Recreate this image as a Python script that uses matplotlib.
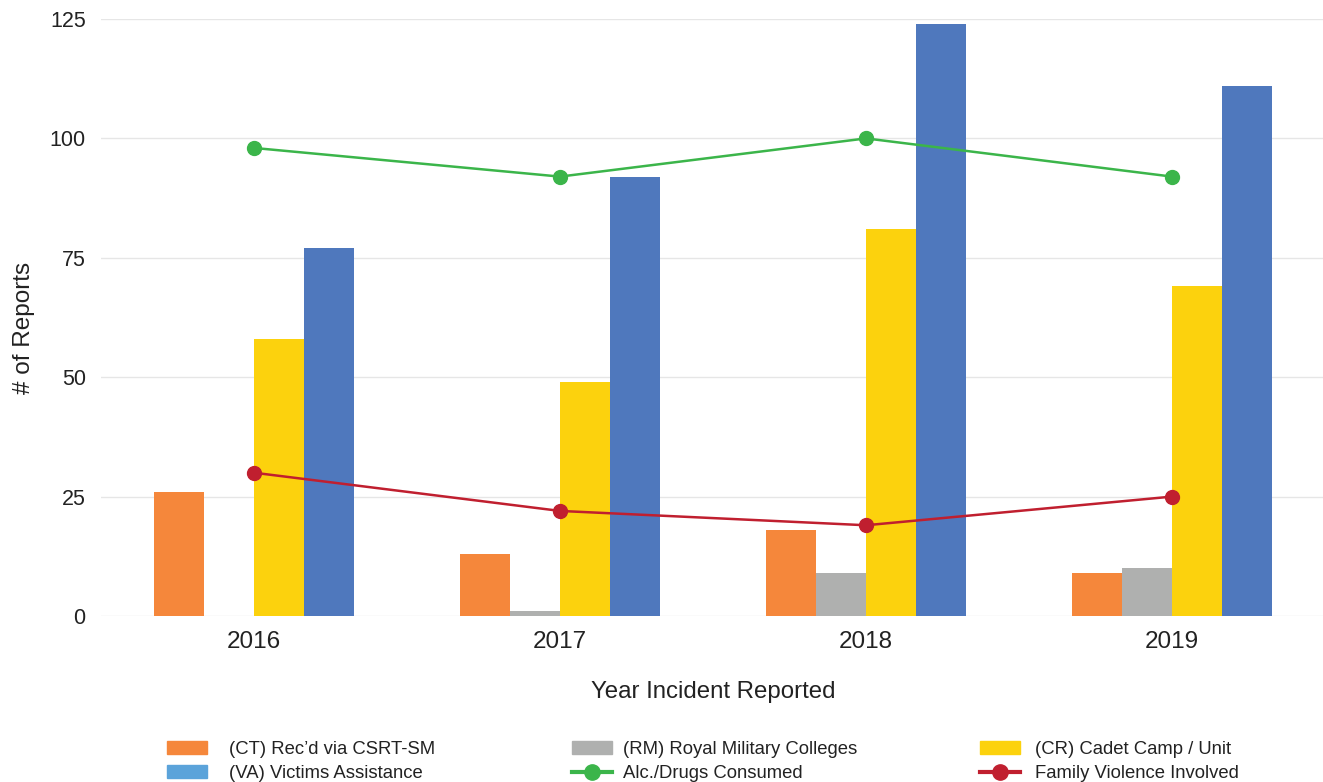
import matplotlib
matplotlib.use("Agg")
import matplotlib.pyplot as plt
import numpy as np
from matplotlib.patches import Patch
from matplotlib.lines import Line2D

plt.rcParams['font.family'] = ['Liberation Sans', 'DejaVu Sans']

years = ["2016", "2017", "2018", "2019"]
ct_csrt = [26, 13, 18, 9]
rm_colleges = [0, 1, 9, 10]
cr_cadet = [58, 49, 81, 69]
va_victims = [77, 92, 124, 111]
alc_drugs = [98, 92, 100, 92]
family_violence = [30, 22, 19, 25]

bar_series = [
    ("(CT) Rec\u2019d via CSRT-SM", ct_csrt, "#F5873B"),
    ("(RM) Royal Military Colleges", rm_colleges, "#AFB0AF"),
    ("(CR) Cadet Camp / Unit", cr_cadet, "#FCD20D"),
    ("(VA) Victims Assistance", va_victims, "#4F78BD"),
]
va_legend_color = "#5BA3DA"
alc_color = "#3BB54A"
fam_color = "#C01F2F"
text_color = "#222222"

W, H = 1323, 782
fig = plt.figure(figsize=(W / 100, H / 100), dpi=100)
ax_left, ax_right = 101, 1325
ax_top, ax_bottom = 19, 616
ax = fig.add_axes([ax_left / W, 1 - ax_bottom / H,
                   (ax_right - ax_left) / W, (ax_bottom - ax_top) / H])

x = np.arange(len(years))
bw = 0.1634
offsets = (np.arange(4) - 1.5) * bw
for (name, vals, col), off in zip(bar_series, offsets):
    ax.bar(x + off, vals, width=bw, color=col, zorder=2, linewidth=0)

ax.plot(x, alc_drugs, color=alc_color, lw=1.8, marker="o", ms=10, zorder=3)
ax.plot(x, family_violence, color=fam_color, lw=1.8, marker="o", ms=10, zorder=3)

ax.set_xlim(-0.5, 3.5)
ax.set_ylim(0, 125)
ax.set_yticks([0, 25, 50, 75, 100, 125])
ax.grid(axis="y", color="#E6E6E6", lw=1.0, zorder=0)
ax.set_axisbelow(True)
for s in ax.spines.values():
    s.set_visible(False)
ax.tick_params(axis="both", length=0, colors=text_color)
ax.tick_params(axis="x", labelsize=17.5, pad=11)
ax.tick_params(axis="y", labelsize=15.5, pad=11)
ax.set_xticks(x)
ax.set_xticklabels(years)
ax.set_xlabel("Year Incident Reported", fontsize=17.3, color=text_color, labelpad=20)
fig.text(24 / W, 1 - 328 / H, "# of Reports", rotation=90, fontsize=17.5,
         color=text_color, ha="center", va="center")

# Legend: three columns placed below the axes
cols = [
    [Patch(color=bar_series[0][2], label=bar_series[0][0]),
     Patch(color=va_legend_color, label=bar_series[3][0])],
    [Patch(color=bar_series[1][2], label=bar_series[1][0]),
     Line2D([], [], color=alc_color, lw=3, marker="o", ms=11, label="Alc./Drugs Consumed")],
    [Patch(color=bar_series[2][2], label=bar_series[2][0]),
     Line2D([], [], color=fam_color, lw=3, marker="o", ms=11, label="Family Violence Involved")],
]
col_x = [167, 572, 980]
col_pad = [1.2, 0.6, 0.8]
for handles, cx, pad in zip(cols, col_x, col_pad):
    leg = fig.legend(handles=handles, loc="upper left",
                     bbox_to_anchor=(cx / W, 1 - 741 / H),
                     frameon=False, fontsize=13.3, handlelength=2.16,
                     handleheight=0.7, handletextpad=pad, labelspacing=0.38,
                     borderpad=0, borderaxespad=0)
    for t in leg.get_texts():
        t.set_color(text_color)

fig.savefig("out.png", dpi=100, facecolor="white")
